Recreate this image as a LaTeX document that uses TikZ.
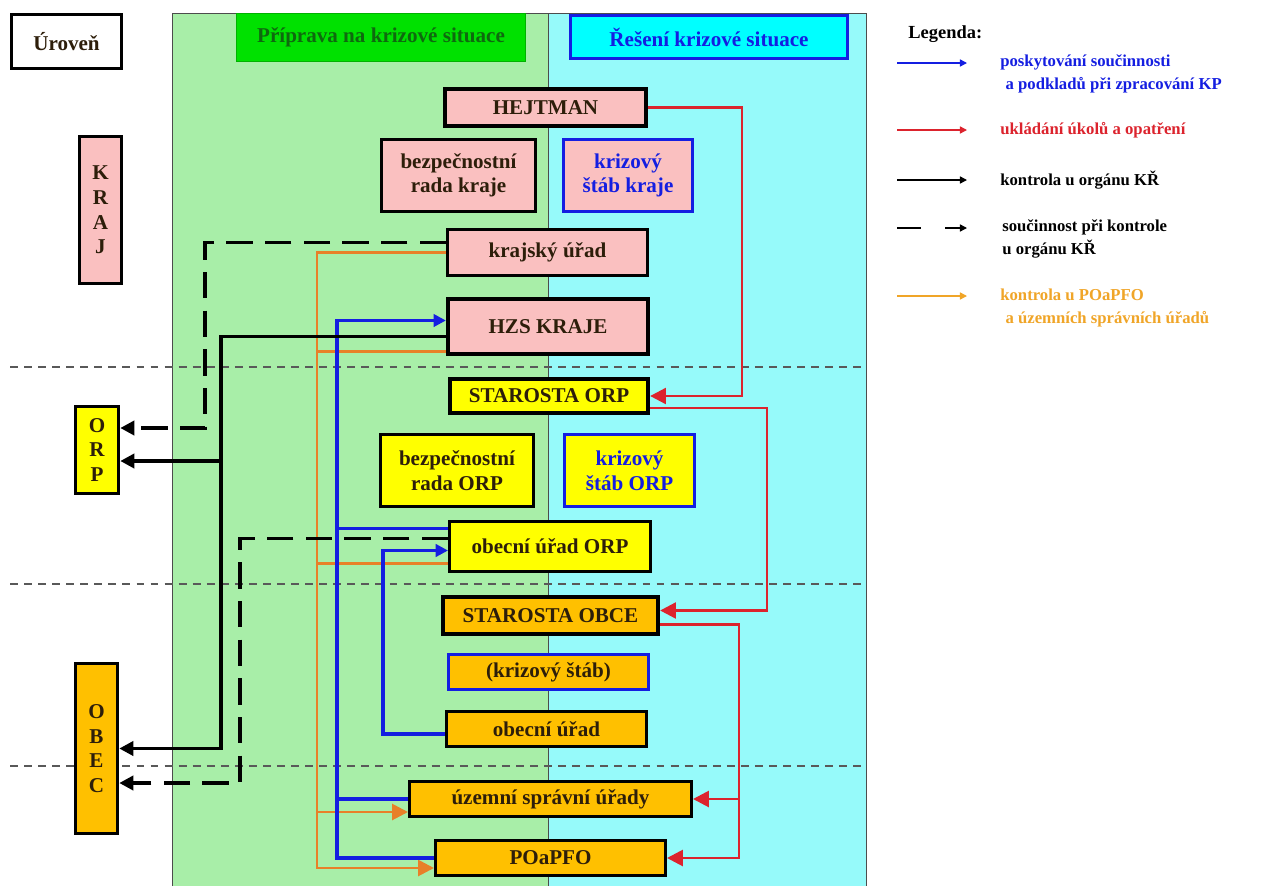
\documentclass[tikz,border=0pt]{standalone}
\usepackage{fontspec}
\setmainfont{Liberation Serif}
\usetikzlibrary{arrows.meta}
\definecolor{pinkbox}{RGB}{250,192,192}
\definecolor{yellowbox}{RGB}{255,255,0}
\definecolor{orangebox}{RGB}{255,192,0}
\definecolor{prepbg}{RGB}{168,238,168}
\definecolor{solvebg}{RGB}{150,250,250}
\definecolor{prephead}{RGB}{0,225,0}
\definecolor{preptext}{RGB}{15,105,15}
\definecolor{solvehead}{RGB}{0,255,255}
\definecolor{kblue}{RGB}{20,30,225}
\definecolor{kred}{RGB}{220,35,45}
\definecolor{korange}{RGB}{232,128,40}
\definecolor{legorange}{RGB}{240,165,40}
\definecolor{ktext}{RGB}{45,30,10}
\tikzstyle{organ}=[draw, line width=1.7pt, font=\fontsize{12}{14}\selectfont\bfseries, text=ktext, align=center, inner sep=0pt]
\tikzstyle{chief}=[organ, line width=2.4pt]
\tikzstyle{staff}=[organ, draw=kblue, text=kblue]
\tikzstyle{head}=[organ, line width=1pt]
\tikzstyle{legtext}=[font=\fontsize{9.5}{13.5}\selectfont\bfseries, align=left, inner sep=0pt, anchor=west]
\tikzstyle{task}=[kred, line width=1.6pt, -{Triangle[length=9pt,width=9pt]}]
\tikzstyle{coop}=[kblue, line width=2pt]
\tikzstyle{check}=[black, line width=2pt]
\tikzstyle{cocheck}=[black, line width=2pt, dash pattern=on 15pt off 7pt]
\tikzstyle{poacheck}=[korange, line width=1.6pt]
\tikzstyle{legarrow}=[line width=0.8pt, -{Triangle[length=4pt,width=4pt]}]
\tikzset{boxwh/.style 2 args={minimum width=#1*0.02cm, minimum height=#2*0.02cm},
  dn/.style={yshift=-(#1)*0.02cm}}

\begin{document}
\begin{tikzpicture}[x=0.02cm, y=-0.02cm]
    \fill[white] (0,0) rectangle (1264,886);
    \useasboundingbox (0,0) rectangle (1264,886);
    \fill[prepbg] (172,13) rectangle (548,886);
    \fill[solvebg] (548,13) rectangle (866,886);
    \draw[gray!60!black, line width=0.5pt] (172,886) |- (866,13) -- (866,886);
    \draw[gray!60!black, line width=0.5pt] (548,13) -- (548,886);
    \foreach \y in {367, 584, 766}
        \draw[gray!70!black, line width=1pt, dash pattern=on 4.5pt off 3.5pt] (10,\y) -- (866,\y);

    % levels
    \node[organ, line width=2pt, fill=white, boxwh={110}{54}] (uroven) at (66.5, 41.5) {Úroveň};
    \node[organ, line width=2pt, fill=pinkbox, boxwh={42}{147}] (kraj) at (100.5, 210) {K\\R\\A\\J};
    \node[organ, line width=2pt, fill=yellowbox, boxwh={43}{87}] (orp) at (97, 450) {O\\R\\P};
    \node[organ, line width=2pt, fill=orangebox, boxwh={42}{170}] (obec) at (96.5, 748.5) {O\\B\\E\\C};

    % headers
    \node[head, draw=green!70!black, fill=prephead, text=preptext, boxwh={289}{48}] (prep) at (381, 37.5) {Příprava na krizové situace};
    \node[head, line width=1.6pt, draw=kblue, fill=solvehead, text=kblue, boxwh={277}{43}] (solve) at (709, 37) {Řešení krizové situace};

    % organs
    \node[chief, fill=pinkbox, boxwh={201}{37}] (hejtman) at (545.5, 107.5) {HEJTMAN};
    \node[organ, fill=pinkbox, boxwh={154}{72}] (bezkraj) at (458.5, 175.5) {bezpečnostní\\rada kraje};
    \node[staff, fill=pinkbox, boxwh={129}{72}] (stabkraj) at (628, 175.5) {krizový\\štáb kraje};
    \node[organ, fill=pinkbox, boxwh={200}{46}] (kru) at (547.5, 252.5) {krajský úřad};
    \node[chief, fill=pinkbox, boxwh={200}{55}] (hzs) at (548, 326.5) {HZS KRAJE};
    \node[chief, fill=yellowbox, boxwh={198}{34}] (starorp) at (549, 396) {STAROSTA ORP};
    \node[organ, fill=yellowbox, boxwh={153}{72}] (bezorp) at (457, 470.5) {bezpečnostní\\rada ORP};
    \node[staff, fill=yellowbox, boxwh={130}{72}] (staborp) at (629.5, 470.5) {krizový\\štáb ORP};
    \node[organ, fill=yellowbox, boxwh={201}{50}] (ouorp) at (550, 546.5) {obecní úřad ORP};
    \node[chief, fill=orangebox, boxwh={215}{37}] (starobec) at (550.5, 615.5) {STAROSTA OBCE};
    \node[staff, fill=orangebox, text=ktext, boxwh={200}{35}] (stabobec) at (548.5, 672) {(krizový štáb)};
    \node[organ, fill=orangebox, boxwh={200}{35}] (ouobec) at (546.5, 729) {obecní úřad};
    \node[organ, fill=orangebox, boxwh={282}{35}] (usu) at (550.5, 799) {územní správní úřady};
    \node[organ, fill=orangebox, boxwh={230}{35}] (poapfo) at (550.5, 858) {POaPFO};

    \coordinate (kbus) at (221, 461);
    \coordinate (dbus) at (205, 428);
    \coordinate (ebus) at (240, 783);
    \coordinate (bbus) at (337, 600);
    \coordinate (cbus) at (383, 600);
    \coordinate (obus) at (317, 600);
    \coordinate (rbus) at (739, 700);

    % orange
    \draw[poacheck, -{Triangle[length=9pt,width=9pt]}] (kru.west) -| (obus) |- ([dn=10]poapfo.west);
    \draw[poacheck] ([dn=25]hzs.west) -| (obus);
    \draw[poacheck] ([dn=17]ouorp.west) -| (obus);
    \draw[poacheck, {Triangle[length=9pt,width=9pt]}-] ([dn=13]usu.west) -| (obus);
    % blue
    \draw[coop, -{Triangle[length=7pt,width=7pt]}] (poapfo.west) -| (bbus) |- ([dn=-6]hzs.west);
    \draw[coop] (usu.west) -| (bbus);
    \draw[coop] ([dn=-18]ouorp.west) -| (bbus);
    \draw[coop, -{Triangle[length=7pt,width=7pt]}] ([dn=5]ouobec.west) -| (cbus) |- ([dn=4]ouorp.west);
    % black
    \draw[check, -{Triangle[length=8pt,width=8pt]}] ([dn=10]hzs.west) -| (kbus) |- (obec.east);
    \draw[check, -{Triangle[length=8pt,width=8pt]}] (kbus) -- (orp.east |- kbus);
    \draw[cocheck, -{Triangle[length=8pt,width=8pt]}] ([dn=-10]kru.west) -| (dbus) -- (orp.east |- dbus);
    \draw[cocheck, -{Triangle[length=8pt,width=8pt]}] ([dn=-8]ouorp.west) -| (ebus) -- (obec.east |- ebus);
    % red
    \draw[task] (hejtman.east) -| (742, 250) |- (starorp.east);
    \draw[task] ([dn=12]starorp.east) -| (767, 500) |- ([dn=-5]starobec.east);
    \draw[task] ([dn=9]starobec.east) -| (rbus) |- (poapfo.east);
    \draw[task] (rbus |- usu.east) -- (usu.east);

    % legend
    \node[legtext, font=\fontsize{10.5}{13}\selectfont\bfseries] (legenda) at (908, 34) {Legenda:};
    \node[legtext, text=kblue] (legcoop) at (1000, 74) {poskytování součinnosti\\\hspace{3pt}a podkladů při zpracování KP};
    \node[legtext, text=kred] (legtask) at (1000, 130) {ukládání úkolů a opatření};
    \node[legtext] (legcheck) at (1000, 180) {kontrola u orgánu KŘ};
    \node[legtext] (legcocheck) at (1002, 239) {součinnost při kontrole\\u orgánu KŘ};
    \node[legtext, text=legorange] (legpoa) at (1000, 308) {kontrola u POaPFO\\\hspace{3pt}a územních správních úřadů};
    \coordinate (l1) at (897, 63);
    \coordinate (l2) at (897, 130);
    \coordinate (l3) at (897, 180);
    \coordinate (l4) at (897, 228);
    \coordinate (l5) at (897, 296);
    \draw[legarrow, kblue] (l1) -- +(70, 0);
    \draw[legarrow, kred] (l2) -- +(70, 0);
    \draw[legarrow, black] (l3) -- +(70, 0);
    \draw[line width=0.8pt] (l4) -- +(24, 0);
    \draw[legarrow, black] ([xshift=48*0.02cm]l4) -- +(22, 0);
    \draw[legarrow, legorange] (l5) -- +(70, 0);
\end{tikzpicture}
\end{document}
